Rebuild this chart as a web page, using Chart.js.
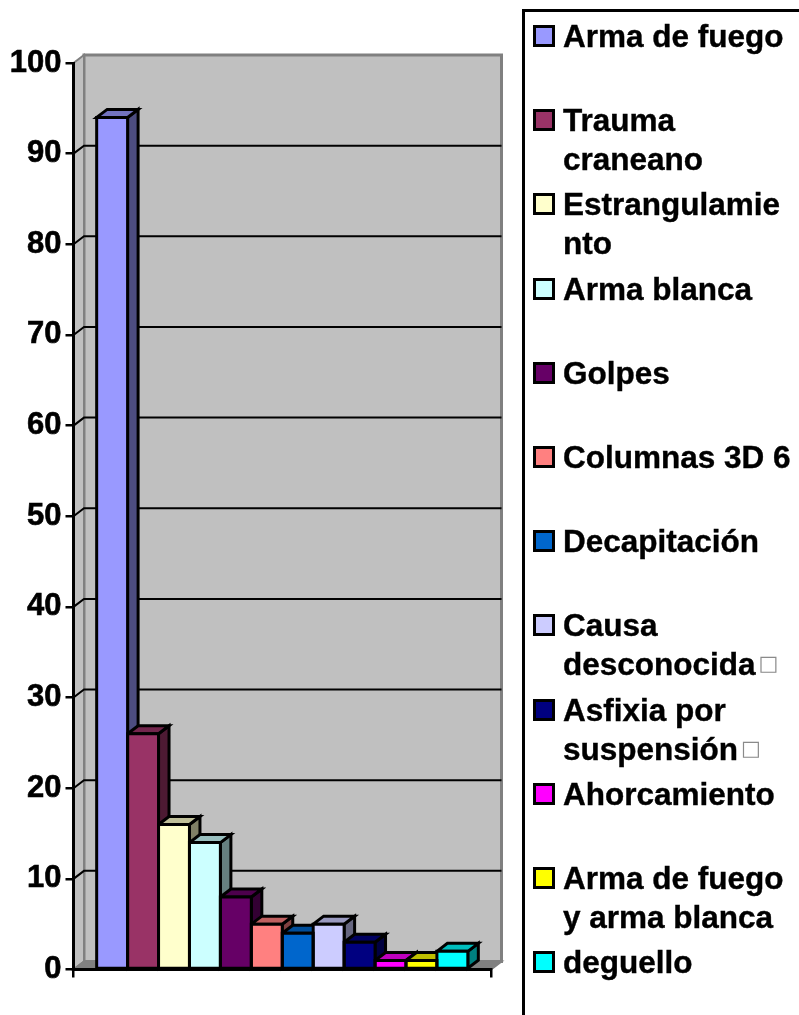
<!DOCTYPE html>
<html>
<head>
<meta charset="utf-8">
<title>Causas</title>
<script src="https://cdn.jsdelivr.net/npm/chart.js@4"></script>
<style>
  html, body { margin: 0; padding: 0; background: #fff; width: 799px; height: 1015px; overflow: hidden; }
  #myChart { position: absolute; left: 0; top: 0; }
  #legend {
    position: absolute; left: 522px; top: 9px; width: 400px; height: 1100px;
    border: 3px solid #000; box-sizing: border-box; padding-top: 5px;
    font: bold 31.5px "Liberation Sans", Arial, sans-serif; color: #000;
    -webkit-text-stroke: 0.4px #000;
  }
  .row { position: relative; height: 84.2px; padding-left: 38px; line-height: 39px; white-space: nowrap; }
  .swatch { position: absolute; left: 8px; top: 8px; width: 22px; height: 22px; border: 3px solid #000; box-sizing: border-box; }
  .tofu { color: #8a8a8a; font: normal 21px "DejaVu Sans", sans-serif; position: relative; top: -5px; left: 3px; -webkit-text-stroke: 0; }
</style>
</head>
<body>
<canvas id="myChart" width="799" height="1015"></canvas>
<div id="legend"></div>
<script>
const category = ['Causas'];
const seriesNames = ['Arma de fuego', 'Trauma craneano', 'Estrangulamiento', 'Arma blanca', 'Golpes', 'Columnas 3D 6',
    'Decapitación', 'Causa desconocida', 'Asfixia por suspensión', 'Ahorcamiento', 'Arma de fuego y arma blanca', 'deguello'];
const seriesValues = [94, 26, 16, 14, 8, 5, 4, 5, 3, 1, 1, 2];
const seriesColors = [[153, 153, 255], [153, 51, 102], [255, 255, 204], [204, 255, 255], [102, 0, 102], [255, 128, 128],
    [0, 102, 204], [204, 204, 255], [0, 0, 128], [255, 0, 255], [255, 255, 0], [0, 255, 255]];
const legendLines = [['Arma de fuego'], ['Trauma', 'craneano'], ['Estrangulamie', 'nto'], ['Arma blanca'], ['Golpes'], ['Columnas 3D 6'],
    ['Decapitación'], ['Causa', 'desconocida□'], ['Asfixia por', 'suspensión□'], ['Ahorcamiento'], ['Arma de fuego', 'y arma blanca'], ['deguello']];

const DX = 10.5, DY = 8;

function shade(c, k) {
    return 'rgb(' + c.map(v => Math.round(v * k)).join(',') + ')';
}

function poly(ctx, pts, fill, stroke, width) {
    ctx.beginPath();
    pts.forEach((p, i) => i ? ctx.lineTo(p[0], p[1]) : ctx.moveTo(p[0], p[1]));
    ctx.closePath();
    if (fill) {
        ctx.fillStyle = fill;
        ctx.fill();
    }
    ctx.strokeStyle = stroke;
    ctx.lineWidth = width;
    ctx.lineJoin = 'miter';
    ctx.stroke();
}

function barBox(chart, i) {
    const p = chart.getDatasetMeta(i).data[0].getProps(['x', 'y', 'base', 'width'], true);
    return { l: p.x - p.width / 2, r: p.x + p.width / 2, t: p.y, b: p.base };
}

// walls, floor and back gridlines of the fake 3D box
const wallsPlugin = {
    id: 'walls',
    beforeDraw(chart) {
        const ctx = chart.ctx, y = chart.scales.y, a = chart.chartArea;
        const top = y.getPixelForValue(100), bot = y.getPixelForValue(0);
        ctx.save();
        poly(ctx, [[a.left + DX, top - DY], [a.right + DX, top - DY], [a.right + DX, bot - DY], [a.left + DX, bot - DY]], '#c0c0c0', '#808080', 3);
        poly(ctx, [[a.left, top], [a.left + DX, top - DY], [a.left + DX, bot - DY], [a.left, bot]], '#c0c0c0', '#808080', 2);
        poly(ctx, [[a.left, bot], [a.left + DX, bot - DY], [a.right + DX, bot - DY], [a.right, bot]], '#808080', '#808080', 2);
        ctx.strokeStyle = '#000';
        ctx.lineWidth = 2;
        y.ticks.forEach(t => {
            if (t.value === 0 || t.value === 100) return;
            const py = y.getPixelForValue(t.value);
            ctx.beginPath();
            ctx.moveTo(a.left, py);
            ctx.lineTo(a.left + DX, py - DY);
            ctx.lineTo(a.right + DX, py - DY);
            ctx.stroke();
        });
        ctx.restore();
    },
    // tops and sides go under the fronts that the library draws afterwards
    beforeDatasetsDraw(chart) {
        const ctx = chart.ctx;
        ctx.save();
        seriesColors.forEach((c, i) => {
            const { l, r, t, b } = barBox(chart, i);
            poly(ctx, [[r, t], [r + DX, t - DY], [r + DX, b - DY], [r, b]], shade(c, 0.5), '#000', 3);
            poly(ctx, [[l, t], [l + DX, t - DY], [r + DX, t - DY], [r, t]], shade(c, 0.75), '#000', 3);
        });
        ctx.restore();
    },
    // outlines sit centred on the bar edges, so adjacent bars share one line
    afterDatasetsDraw(chart) {
        const ctx = chart.ctx;
        ctx.save();
        seriesColors.forEach((c, i) => {
            const { l, r, t, b } = barBox(chart, i);
            poly(ctx, [[l, t], [r, t], [r, b], [l, b]], null, '#000', 3);
        });
        ctx.restore();
    }
};

var ctx = document.getElementById('myChart').getContext('2d');
var myChart = new Chart(ctx, {
    type: 'bar',
    data: {
        labels: category,
        datasets: seriesNames.map((name, i) => ({
            label: name,
            data: [seriesValues[i]],
            backgroundColor: shade(seriesColors[i], 1),
            borderWidth: 0,
            categoryPercentage: 0.889,
            barPercentage: 1,
        }))
    },
    plugins: [wallsPlugin],
    options: {
        responsive: false,
        animation: false,
        layout: { padding: { left: 0, top: 63, right: 308, bottom: 45.5 } },
        plugins: { legend: { display: false }, tooltip: { enabled: false } },
        scales: {
            x: {
                afterFit(scale) { scale.height = 0; },
                ticks: { display: false },
                grid: { offset: true, drawOnChartArea: false, color: '#000', lineWidth: 2.5, tickLength: 8 },
                border: { display: true, color: '#000', width: 3, z: 1 }
            },
            y: {
                min: 0,
                max: 100,
                afterFit(scale) { scale.width = 73.5; },
                ticks: {
                    stepSize: 10,
                    padding: 4,
                    color: '#000',
                    textStrokeColor: '#000',
                    textStrokeWidth: 0.6,
                    font: { family: '"Liberation Sans"', size: 31, weight: 'bold' }
                },
                grid: { drawOnChartArea: false, color: '#000', lineWidth: 2.5, tickLength: 8 },
                border: { display: true, color: '#000', width: 3, z: 1 }
            }
        }
    }
});

// legend as real text, with the same wrapped lines as the picture
const legend = document.getElementById('legend');
legendLines.forEach((lines, i) => {
    const row = document.createElement('div');
    row.className = 'row';
    const swatch = document.createElement('span');
    swatch.className = 'swatch';
    swatch.style.background = shade(seriesColors[i], 1);
    row.appendChild(swatch);
    lines.forEach(line => {
        const div = document.createElement('div');
        div.innerHTML = line.replace('□', '<span class="tofu">□</span>');
        row.appendChild(div);
    });
    legend.appendChild(row);
});
</script>
</body>
</html>
